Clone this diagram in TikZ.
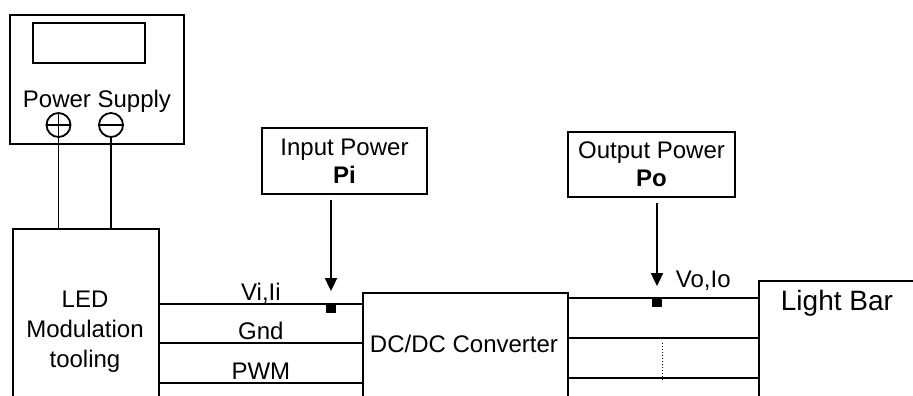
\documentclass[tikz,border=0pt]{standalone}
\usepackage{fontspec}
\setmainfont{Liberation Sans}
\usetikzlibrary{arrows.meta,calc}
\begin{document}
\begin{tikzpicture}[x=1pt,y=-1pt,line cap=butt,line join=miter,line width=1.8pt,>={Triangle[width=12pt,length=13pt]}]
	\tikzset{box/.style={draw,inner sep=0pt,anchor=north west},
		txt/.style={font=\fontsize{24}{28}\selectfont,inner sep=0pt},
		tap/.style={fill,inner sep=0pt,minimum size=10pt},
		term/.style={draw,circle,inner sep=0pt,minimum size=24pt}
	}
	\useasboundingbox (0,0) rectangle (913,396);
	\clip (0,0) rectangle (913,396);
	\node[box,minimum width=174pt,minimum height=129pt] (psu) at (9,14) {};
	\node[box,minimum width=112pt,minimum height=40pt] (display) at (32,22) {};
	\node[txt,anchor=base] (psutxt) at (97,107) {Power Supply};
	\node[term] (plus) at (58.5,125) {};
	\node[term] (minus) at (111,125) {};
	\draw (plus.north)--(plus.south) (plus.west)--(plus.east) (minus.west)--(minus.east);
	\node[box,minimum width=146pt,minimum height=240pt] (led) at (12,228) {};
	\node[txt,align=center,anchor=north,font=\fontsize{24}{30}\selectfont] (ledtxt) at (85,290.5) {LED\\Modulation\\tooling};
	\draw (plus.south) -- (plus.south |- led.north);
	\draw (minus.south) -- (minus.south |- led.north);
	\node[box,minimum width=205pt,minimum height=150pt] (dcdc) at (362,292) {};
	\node[txt,anchor=base] (dcdctxt) at (464,352) {DC/DC Converter};
	\node[box,minimum width=200pt,minimum height=150pt] (bar) at (758,280) {};
	\node[txt,anchor=base west,font=\fontsize{28}{32}\selectfont] (bartxt) at (780,310) {Light Bar};
	\node[box,txt,anchor=center,align=center,minimum width=165pt,minimum height=66pt] (pin) at (344.5,161) {Input Power\\\textbf{Pi}};
	\node[box,txt,anchor=center,align=center,minimum width=167pt,minimum height=65pt] (pout) at (651.5,164.5) {Output Power\\\textbf{Po}};
	\foreach \y/\lab in {304/{Vi,Ii},343/Gnd,383/PWM}
		\draw (led.east |- 0,\y) -- (dcdc.west |- 0,\y) node[midway,txt,anchor=base,yshift=4pt] {\lab};
	\foreach \y in {298,338,378}
		\draw (dcdc.east |- 0,\y) -- (bar.west |- 0,\y);
	\coordinate (tapin) at (331,304);
	\coordinate (tapout) at (657,298);
	\node[tap,yshift=-4pt] (sqin) at (tapin) {};
	\node[tap,yshift=-4pt] (sqout) at (tapout) {};
	\draw[->] ($(pin.south -| sqin)+(0,5)$) -- ($(sqin.north)+(0,-11)$);
	\draw[->] ($(pout.south -| sqout)+(0,5)$) -- ($(sqout.north)+(0,-10)$);
	\node[txt,anchor=base west] (votxt) at (675,287) {Vo,Io};
	\draw[dotted,line width=1pt] (662,343) -- (662,382);
\end{tikzpicture}
\end{document}
